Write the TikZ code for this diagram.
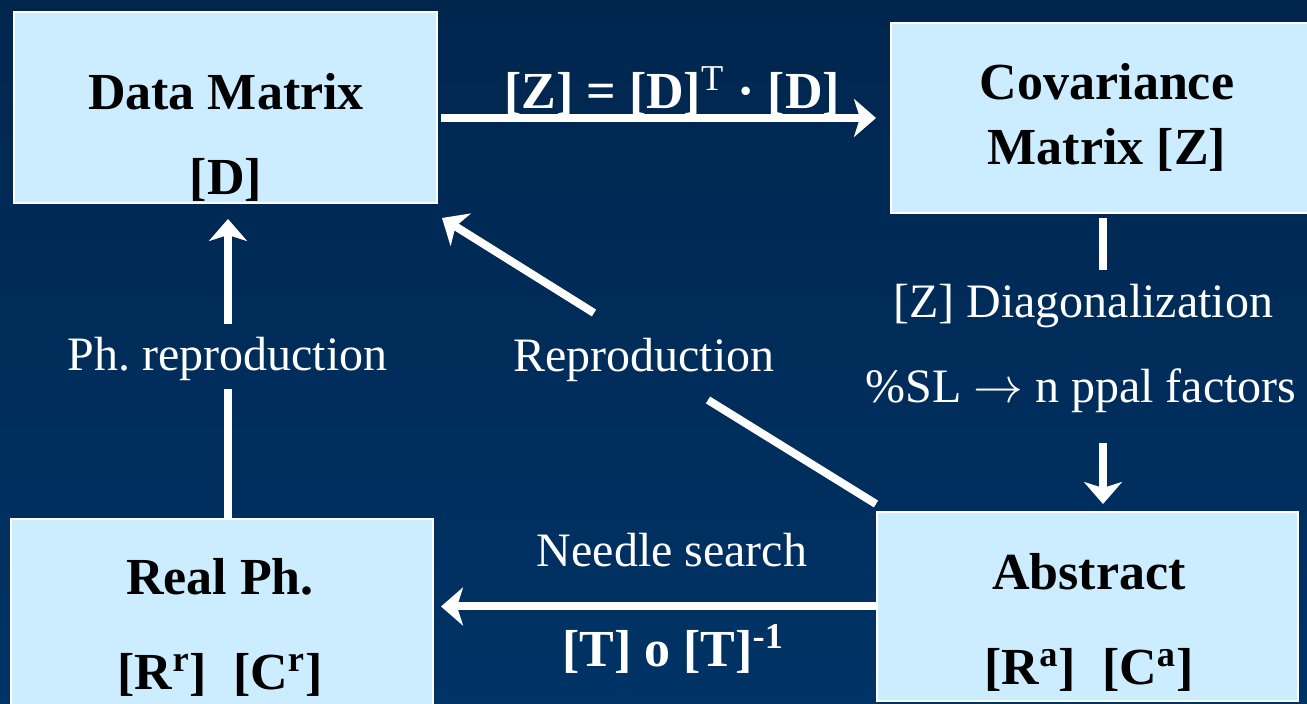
\documentclass[tikz,border=0pt]{standalone}
\usepackage{fontspec}
\setmainfont{Liberation Serif}
\usetikzlibrary{positioning,arrows.meta}

\definecolor{bgtop}{RGB}{0,38,78}
\definecolor{bgbot}{RGB}{0,51,102}
\definecolor{boxblue}{RGB}{204,236,255}

\tikzset{
  box/.style={draw=white, line width=1pt, fill=boxblue, inner sep=0pt},
  boxtxt/.style={anchor=base, inner sep=0pt, text=black,
    font=\fontsize{26}{30}\selectfont\bfseries},
  lbl/.style={anchor=base, inner sep=0pt, text=white,
    font=\fontsize{24}{28}\selectfont},
  lblb/.style={lbl, font=\fontsize{26}{30}\selectfont\bfseries},
  flow/.style={draw=white, line width=4pt},
  arr/.style={flow, -{Stealth[length=11pt, width=19pt, inset=3pt]}},
}

\begin{document}
\begin{tikzpicture}[x=0.5pt, y=-0.5pt]
  % Background
  \useasboundingbox (0,0) rectangle (1307,704);
  \shade[top color=bgtop, bottom color=bgbot] (0,0) rectangle (1307,704);

  % Boxes
  \node[box, minimum width=211.5pt, minimum height=95.5pt] (dm) at (225.5,107.5) {};
  \node[box, minimum width=216pt, minimum height=95pt] (cov) at (1107,118) {};
  \node[box, minimum width=211pt, minimum height=95pt] (rp) at (222,614) {};
  \node[box, minimum width=210.5pt, minimum height=94.5pt] (abs) at (1087.5,606.5) {};

  % Box texts
  \node[boxtxt] (dm1) at (226,110) {Data Matrix};
  \node[boxtxt] (dm2) at (226,195) {[D]};
  \node[boxtxt] (cov1) at (1107,100) {Covariance};
  \node[boxtxt] (cov2) at (1107,165) {Matrix [Z]};
  \node[boxtxt] (rp1) at (220,595) {Real Ph.};
  \node[boxtxt] (rp2) at (220,690) {[R\textsuperscript{r}]\ \ [C\textsuperscript{r}]};
  \node[boxtxt] (abs1) at (1089,590) {Abstract};
  \node[boxtxt] (abs2) at (1089,685) {[R\textsuperscript{a}]\ \ [C\textsuperscript{a}]};

  % Labels
  \node[lblb] (fz) at (672,109) {[Z] = [D]\textsuperscript{\mdseries T} · [D]};
  \node[lbl] (diag) at (1083,318) {[Z] Diagonalization};
  \node[lbl] (sl) at (1081,403) {\%SL $\rightarrow$ n ppal factors};
  \node[lbl] (phr) at (227.5,371) {Ph.\ reproduction};
  \node[lbl] (rep) at (644,372) {Reproduction};
  \node[lbl] (ns) at (672,567) {Needle search};
  \node[lblb] (tt) at (673,667) {[T] o [T]\textsuperscript{-1}};

  % Gap ends
  \coordinate (c1) at (1103,270);
  \coordinate (c2) at (1103,443);
  \coordinate (p1) at (228,389);
  \coordinate (p2) at (228,324);
  \coordinate (r1) at (708,400);
  \coordinate (r2) at (594,313);

  % Arrows
  \draw[arr, shorten <=1.5pt, shorten >=7pt] (dm.east |- cov.west) -- (cov.west);
  \draw[flow, shorten <=2pt] (cov.south -| c1) -- (c1);
  \draw[arr, shorten >=3.5pt] (c2) -- (abs.north -| c2);
  \draw[flow] (rp.north -| p1) -- (p1);
  \draw[arr, shorten >=7.5pt] (p2) -- (dm.south -| p2);
  \draw[flow] ([yshift=3.5pt]abs.north west) -- (r1);
  \draw[arr] (r2) -- ([xshift=2pt, yshift=-7pt]dm.south east);
  \draw[arr, shorten >=3.5pt] (abs.west) -- (rp.east |- abs.west);
\end{tikzpicture}
\end{document}
